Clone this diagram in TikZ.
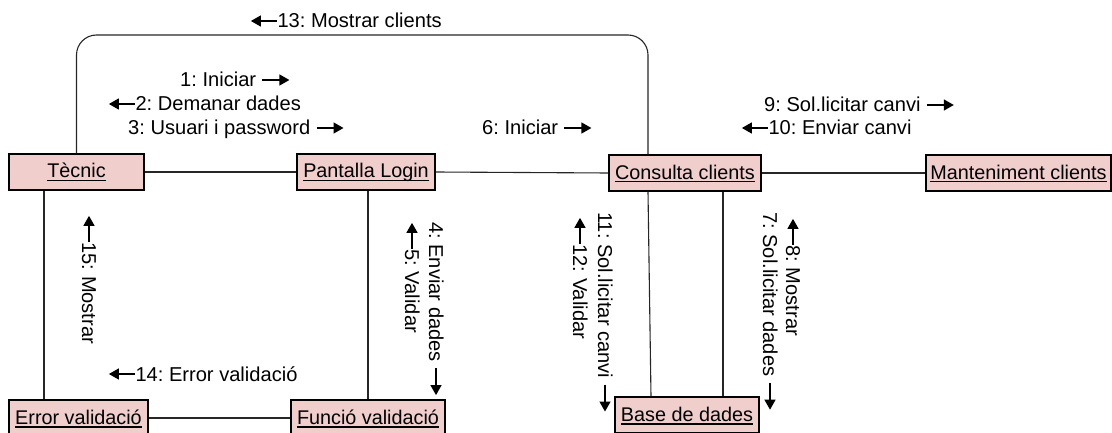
\documentclass[tikz,border=0pt]{standalone}
\usepackage{fontspec}
\setmainfont{Liberation Sans}
\usetikzlibrary{arrows.meta}
\definecolor{boxfill}{RGB}{239,206,204}
\frenchspacing
\newcommand{\ra}{\tikz[baseline=-7pt,x=1pt,y=1pt]\draw[line width=1.3pt,-{Triangle[length=10pt,width=11pt]}] (0,0)--(27,0);}
\newcommand{\la}{\tikz[baseline=-7pt,x=1pt,y=1pt]\draw[line width=1.3pt,{Triangle[length=10pt,width=11pt]}-] (0,0)--(26,0);}
\newcommand{\uln}[1]{\setbox0\hbox{#1}\makebox[0pt][l]{\rule[-3.5pt]{\wd0}{1.3pt}}\box0}
\begin{document}
\begin{tikzpicture}[x=1pt,y=-1pt,
  obj/.style={draw=black, line width=1.4pt, fill=boxfill, minimum height=36pt,
    inner sep=0pt, text height=16pt, text depth=4pt,
    font=\fontsize{19.8}{24}\selectfont\frenchspacing},
  lab/.style={inner sep=0pt, anchor=base west, font=\fontsize{20.1}{24}\selectfont\frenchspacing},
  vlab/.style={lab, rotate=-90},
  conn/.style={line width=1.1pt, draw=black!85}]
\useasboundingbox (0,0) rectangle (1112,433);
\clip (0,0) rectangle (1112,433);
% objects
\node[obj, minimum width=135pt] (tecnic) at (76.5,172) {\uln{Tècnic}};
\node[obj, minimum width=138pt] (login) at (366,172) {\uln{Pantalla Login}};
\node[obj, minimum width=152pt] (consulta) at (685,173) {\uln{Consulta clients}};
\node[obj, minimum width=185pt] (mant) at (1018.5,173) {\uln{Manteniment clients}};
\node[obj, minimum width=139pt] (errorv) at (78.5,418) {\uln{Error validació}};
\node[obj, minimum width=154pt] (funcio) at (368,418) {\uln{Funció validació}};
\node[obj, minimum width=144pt] (base) at (687,415) {\uln{Base de dades}};
% helper coordinates
\coordinate (x44) at (44,0);
\coordinate (x368) at (368,0);
\coordinate (x648) at (648,0);
\coordinate (x651) at (651,0);
\coordinate (x723) at (723,0);
\coordinate (rtop) at (648,35);
% connectors
\draw[conn] (tecnic.east) -- (login.west);
\draw[conn] (login.east) -- (consulta.west);
\draw[conn] (consulta.east) -- (mant.west);
\draw[conn] (errorv.east) -- (funcio.west);
\draw[conn] (tecnic.south -| x44) -- (errorv.north -| x44);
\draw[conn] (login.south -| x368) -- (funcio.north -| x368);
\draw[conn] (consulta.south -| x648) -- (base.north -| x651);
\draw[conn] (consulta.south -| x723) -- (base.north -| x723);
\draw[conn, rounded corners=20pt] (tecnic.north) |- (rtop) -- (consulta.north -| rtop);
% message labels
\node[lab] (m13) at (250,28) {\la13: Mostrar clients};
\node[lab] (m1) at (180,87) {1: Iniciar \ra};
\node[lab] (m2) at (108,111) {\la2: Demanar dades};
\node[lab] (m3) at (128,135) {3: Usuari i password \ra};
\node[lab] (m6) at (482,135) {6: Iniciar \ra};
\node[lab] (m9) at (764,112) {9: Sol.licitar canvi \ra};
\node[lab] (m10) at (741,135) {\la10: Enviar canvi};
\node[lab] (m14) at (108,381) {\la14: Error validació};
\node[vlab] (m15) at (82,215) {\la15: Mostrar};
\node[vlab] (m4) at (429,222) {4: Enviar dades \ra};
\node[vlab] (m5) at (405,222) {\la5: Validar};
\node[vlab] (m11) at (598,212) {11: Sol.licitar canvi \ra};
\node[vlab] (m12) at (573,217) {\la12: Validar};
\node[vlab] (m7) at (763,212) {7: Sol.licitar dades \ra};
\node[vlab] (m8) at (786,218) {\la8: Mostrar};
\end{tikzpicture}
\end{document}
